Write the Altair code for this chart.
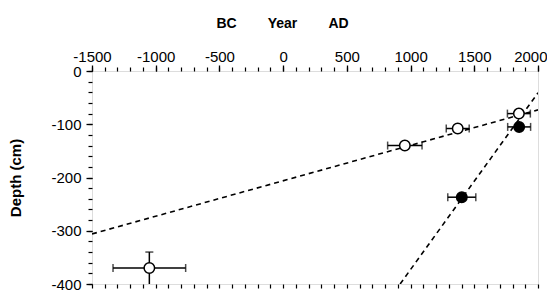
import altair as alt
import pandas as pd

# Open circles (year, depth, x-error, y-error)
open_year = [1850, 1370, 955, -1050]
open_depth = [-80, -108, -140, -370]
open_xerr = [90, 90, 135, 285]
open_yerr = [0, 0, 0, 30]

# Filled circles
filled_year = [1852, 1402]
filled_depth = [-105, -237]
filled_xerr = [90, 110]

# Dashed regression lines (end points)
lineA_year = [-1500, 2000]
lineA_depth = [-306, -73]
lineB_year = [918, 2000]
lineB_depth = [-400, -41]

x_major = list(range(-1500, 1501, 500))
x_last = [2000]
x_minor = list(range(-1500, 2001, 100))
y_major = list(range(-400, 1, 100))
y_minor = list(range(-400, 1, 20))

pts = pd.DataFrame({
    "year": open_year + filled_year,
    "depth": open_depth + filled_depth,
    "xerr": open_xerr + filled_xerr,
    "yerr": open_yerr + [0] * len(filled_year),
    "kind": ["open"] * len(open_year) + ["filled"] * len(filled_year),
})
pts["xlo"] = pts["year"] - pts["xerr"]
pts["xhi"] = pts["year"] + pts["xerr"]
pts["ylo"] = pts["depth"] - pts["yerr"]
pts["yhi"] = pts["depth"] + pts["yerr"]

caps = pd.concat([
    pd.DataFrame({"cx": pts["xlo"], "cy": pts["depth"]}),
    pd.DataFrame({"cx": pts["xhi"], "cy": pts["depth"]}),
])
yerr_pts = pts[pts["yerr"] > 0]
ycaps = pd.DataFrame({"cx": yerr_pts["year"], "cy": yerr_pts["yhi"]})

lines = pd.DataFrame({
    "year": lineA_year + lineB_year,
    "depth": lineA_depth + lineB_depth,
    "line": ["A"] * 2 + ["B"] * 2,
})

FONT = "Liberation Sans"
xs = alt.Scale(domain=[-1500, 2000], nice=False, zero=False)
ys = alt.Scale(domain=[-400, 0], nice=False, zero=False)

title_txt = "BC" + "\u00a0" * 8 + "Year" + "\u00a0" * 8 + "AD"

ax_x_major = alt.Axis(orient="top", values=x_major, labelExpr="'' + datum.value",
                      title=title_txt, titleFontWeight="bold", titleFontSize=14,
                      titleFont=FONT, titleX=190, titleAlign="center",
                      titlePadding=19, labelFont=FONT, labelFontSize=15,
                      tickSize=6, labelPadding=1, labelFlush=False,
                      labelOverlap=False, domain=False, grid=False,
                      tickColor="black", labelColor="black", titleColor="black",
                      tickWidth=1.3)
ax_x_last = alt.Axis(orient="top", values=x_last, labelExpr="'' + datum.value",
                     title=None, labelFont=FONT, labelFontSize=15,
                     tickSize=6, labelPadding=1, labelFlush=True,
                     labelFlushOffset=9, labelOverlap=False, domain=False,
                     grid=False, tickColor="black", labelColor="black",
                     tickWidth=1.3)
ax_x_minor = alt.Axis(orient="top", values=x_minor, labels=False, title=None,
                      tickSize=4, domain=False, grid=False, tickColor="black",
                      tickWidth=1.2)
ax_x_bottom = alt.Axis(orient="bottom", values=x_minor, labels=False, title=None,
                       tickSize=4, domain=False, grid=False, tickColor="black",
                       tickWidth=1.2)
ax_y_major = alt.Axis(orient="left", values=y_major, labelExpr="'' + datum.value",
                      title="Depth (cm)", titleFontWeight="bold", titleFontSize=15,
                      titleFont=FONT, titlePadding=27, labelFont=FONT,
                      labelFontSize=15, tickSize=6, labelPadding=5,
                      labelFlush=False, labelOverlap=False,
                      domain=False, grid=False, tickColor="black",
                      labelColor="black", titleColor="black", tickWidth=1.3)
ax_y_minor = alt.Axis(orient="left", values=y_minor, labels=False, title=None,
                      tickSize=4, domain=False, grid=False, tickColor="black",
                      tickWidth=1.2)

line_layer = alt.Chart(lines).mark_line(
    color="black", strokeDash=[5, 4], strokeWidth=1.6, clip=True
).encode(
    x=alt.X("year:Q", scale=xs, axis=ax_x_major),
    y=alt.Y("depth:Q", scale=ys, axis=ax_y_major),
    detail="line:N",
)

xerr_layer = alt.Chart(pts).mark_rule(color="black", strokeWidth=1.5).encode(
    x=alt.X("xlo:Q", scale=xs, axis=ax_x_minor),
    x2="xhi:Q",
    y=alt.Y("depth:Q", scale=ys, axis=ax_y_minor),
)

yerr_layer = alt.Chart(yerr_pts).mark_rule(color="black", strokeWidth=1.5, clip=True).encode(
    x=alt.X("year:Q", scale=xs, axis=ax_x_bottom),
    y=alt.Y("ylo:Q", scale=ys, axis=None),
    y2="yhi:Q",
)

cap_layer = alt.Chart(caps).mark_tick(
    color="black", orient="vertical", size=8, thickness=1.5
).encode(
    x=alt.X("cx:Q", scale=xs, axis=ax_x_last),
    y=alt.Y("cy:Q", scale=ys, axis=None),
)

ycap_layer = alt.Chart(ycaps).mark_tick(
    color="black", orient="horizontal", size=8, thickness=1.5
).encode(
    x=alt.X("cx:Q", scale=xs, axis=None),
    y=alt.Y("cy:Q", scale=ys, axis=None),
)

pt_layer = alt.Chart(pts).mark_point(
    shape="circle", size=110, stroke="black", strokeWidth=1.5, opacity=1
).encode(
    x=alt.X("year:Q", scale=xs, axis=None),
    y=alt.Y("depth:Q", scale=ys, axis=None),
    fill=alt.Fill("kind:N", scale=alt.Scale(domain=["open", "filled"],
                                             range=["white", "black"]),
                  legend=None),
)

chart = alt.layer(
    line_layer, xerr_layer, yerr_layer, cap_layer, ycap_layer, pt_layer
).resolve_axis(x="independent", y="independent").properties(
    width=446, height=213,
    autosize=alt.AutoSizeParams(type="none"),
    padding={"left": 84, "top": 63, "right": 9, "bottom": 7},
).configure_view(
    stroke="black", strokeWidth=1.5
).configure(background="white")

chart.save("out.html", embed_options={"renderer": "svg", "actions": False})
